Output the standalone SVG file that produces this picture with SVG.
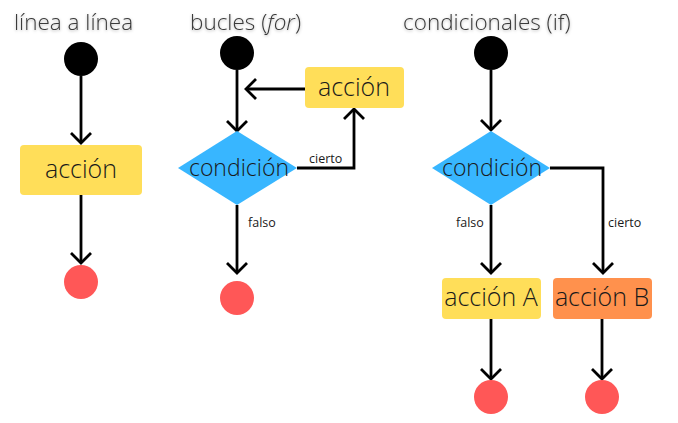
<svg xmlns="http://www.w3.org/2000/svg" width="678" height="423" viewBox="0 0 678 423">
<defs>
<marker id="arr" markerUnits="userSpaceOnUse" markerWidth="24" markerHeight="24" viewBox="-12 -12 24 24" refX="0" refY="0" orient="auto">
<path d="M-10,-10 L0,0 L-10,10" fill="none" stroke="#000" stroke-width="2.8"/>
</marker>
<filter id="sh" x="-10%" y="-30%" width="120%" height="160%">
<feDropShadow dx="0" dy="1" stdDeviation="1.5" flood-color="#000" flood-opacity="0.3"/>
</filter>
</defs>
<style>
.t{font-family:"Open Sans","Noto Sans",sans-serif;font-weight:300;fill:#1a1a1a;text-anchor:middle}
.title{font-family:"Open Sans","Noto Sans",sans-serif;font-weight:300;font-size:22.5px;fill:#3a3a3a}
.lab{font-family:"Open Sans","Noto Sans",sans-serif;font-size:12.5px;fill:#1a1a1a}
.ln{fill:none;stroke:#000;stroke-width:2.8}
.start{fill:#000}
.end{fill:#FF5757}
.act{fill:#FFDE59}
.actb{fill:#FF914D}
.dia{fill:#38B6FF}
</style>
<rect width="678" height="423" fill="#fff"/>
<g id="titles" filter="url(#sh)">
<text class="title" x="14" y="30">línea a línea</text>
<text class="title" x="190" y="30">bucles (<tspan font-style="italic">for</tspan>)</text>
<text class="title" x="403" y="30">condicionales (if)</text>
</g>
<g id="connectors">
<path class="ln" d="M81,76 L81,143" marker-end="url(#arr)"/>
<path class="ln" d="M81,195 L81,263" marker-end="url(#arr)"/>
<path class="ln" d="M237,70 L237,131" marker-end="url(#arr)"/>
<path class="ln" d="M305,89 L246,89" marker-end="url(#arr)"/>
<path class="ln" d="M297,168 L354,168 L354,109" marker-end="url(#arr)"/>
<path class="ln" d="M237,205 L237,273" marker-end="url(#arr)"/>
<path class="ln" d="M491,70 L491,130" marker-end="url(#arr)"/>
<path class="ln" d="M550,168 L603,168 L603,273" marker-end="url(#arr)"/>
<path class="ln" d="M491,205 L491,273" marker-end="url(#arr)"/>
<path class="ln" d="M491,319 L491,379" marker-end="url(#arr)"/>
<path class="ln" d="M602,319 L602,379" marker-end="url(#arr)"/>
<text class="lab" x="309" y="163">cierto</text>
<text class="lab" x="248" y="227">falso</text>
<text class="lab" x="456" y="227">falso</text>
<text class="lab" x="608" y="227">cierto</text>
</g>
<g id="start1"><circle class="start" cx="81" cy="59" r="17"/></g>
<g id="action1"><rect class="act" x="20" y="145" width="122" height="50" rx="4"/><text class="t" x="81" y="178" font-size="25">acción</text></g>
<g id="end1"><circle class="end" cx="81" cy="282" r="17"/></g>
<g id="start2"><circle class="start" cx="237" cy="53" r="17"/></g>
<g id="cond2"><polygon class="dia" points="237,131 297,168 237,205 178,168"/><text class="t" x="239" y="176" font-size="23">condición</text></g>
<g id="action2"><rect class="act" x="305" y="67" width="99" height="41" rx="4"/><text class="t" x="354" y="96" font-size="25">acción</text></g>
<g id="end2"><circle class="end" cx="237" cy="298" r="17"/></g>
<g id="start3"><circle class="start" cx="491" cy="53" r="17"/></g>
<g id="cond3"><polygon class="dia" points="491,131 550,168 491,205 432,168"/><text class="t" x="492" y="176" font-size="23">condición</text></g>
<g id="actionA"><rect class="act" x="442" y="278" width="99" height="41" rx="4"/><text class="t" x="491" y="306" font-size="25">acción A</text></g>
<g id="actionB"><rect class="actb" x="553" y="278" width="99" height="41" rx="4"/><text class="t" x="602" y="306" font-size="25">acción B</text></g>
<g id="endA"><circle class="end" cx="491" cy="397" r="17"/></g>
<g id="endB"><circle class="end" cx="602" cy="397" r="17"/></g>
</svg>
